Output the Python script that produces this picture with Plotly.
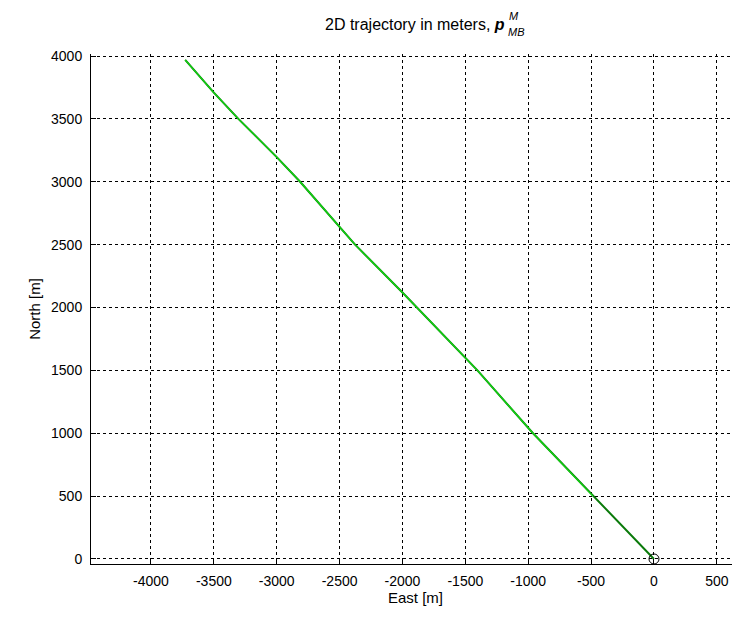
import plotly.graph_objects as go

# Data (meters)
east = [0, -485, -962, -1404, -1887, -2000, -2377, -2814, -3000, -3305, -3500, -3728]
north = [0, 500, 1000, 1500, 2000, 2119, 2500, 3000, 3196, 3500, 3709, 3969]
est_east = [-485, -962, -1404, -1887, -2000, -2377, -2814, -3000, -3305, -3500, -3728]
est_north = [500, 1000, 1500, 2000, 2119, 2500, 3000, 3196, 3500, 3709, 3969]
origin_east = [0]
origin_north = [0]

x_ticks = [-4000, -3500, -3000, -2500, -2000, -1500, -1000, -500, 0, 500]
y_ticks = [0, 500, 1000, 1500, 2000, 2500, 3000, 3500, 4000]

OFF = 8  # page body margin
W, H = 740 - OFF, 622 - 2 * OFF
ML, MR, MT = 91 - OFF, 0, 54 - OFF
MB = OFF + H - 564
PW = W - ML - MR
PH = H - MT - MB


def px_x(p):
    return (p - OFF - ML) / PW


def px_y(p):
    return (H - MB - (p - OFF)) / PH


fig = go.Figure()
fig.add_trace(go.Scatter(x=east, y=north, mode="lines",
                         line=dict(color="#0a7a0a", width=2.0), showlegend=False))
fig.add_trace(go.Scatter(x=est_east, y=est_north, mode="lines",
                         line=dict(color="#12d612", width=1.3), showlegend=False))
fig.add_trace(go.Scatter(x=origin_east, y=origin_north, mode="markers",
                         marker=dict(symbol="circle-open", size=10, color="black",
                                     line=dict(width=1, color="black")),
                         showlegend=False))

font = "Liberation Sans, Arial, sans-serif"
axis_common = dict(
    showline=True, linecolor="black", linewidth=1,
    ticks="inside", ticklen=5, tickcolor="black", tickwidth=1,
    showgrid=True, gridcolor="black", gridwidth=1, griddash="3px,3px",
    zeroline=False, mirror=False, automargin=False,
    tickfont=dict(family=font, size=14, color="black"),
)

fig.update_layout(
    width=W, height=H,
    margin=dict(l=ML, r=MR, t=MT, b=MB, pad=0, autoexpand=False),
    paper_bgcolor="white", plot_bgcolor="white",
    font=dict(family=font, color="black"),
    xaxis=dict(range=[-4477, 684], tickvals=x_ticks,
               ticktext=[str(v) for v in x_ticks],
               title=dict(text="East [m]", font=dict(family=font, size=15), standoff=4),
               ticklabelstandoff=4,
               **axis_common),
    yaxis=dict(range=[-40, 4016], tickvals=y_ticks,
               ticktext=[str(v) for v in y_ticks],
               title=dict(text="North [m]", font=dict(family=font, size=15), standoff=6),
               ticklabelstandoff=5,
               **axis_common),
)

fig.add_annotation(text="2D trajectory in meters, <b><i>p</i></b>",
                   xref="paper", yref="paper", x=px_x(507), y=px_y(25),
                   xanchor="right", yanchor="middle", showarrow=False,
                   font=dict(family=font, size=16, color="black"))
fig.add_annotation(text="<i>M</i>",
                   xref="paper", yref="paper", x=px_x(507), y=px_y(16),
                   xanchor="left", yanchor="middle", showarrow=False,
                   font=dict(family=font, size=11, color="black"))
fig.add_annotation(text="<i>MB</i>",
                   xref="paper", yref="paper", x=px_x(506), y=px_y(32),
                   xanchor="left", yanchor="middle", showarrow=False,
                   font=dict(family=font, size=11, color="black"))

fig.write_html("out.html")
